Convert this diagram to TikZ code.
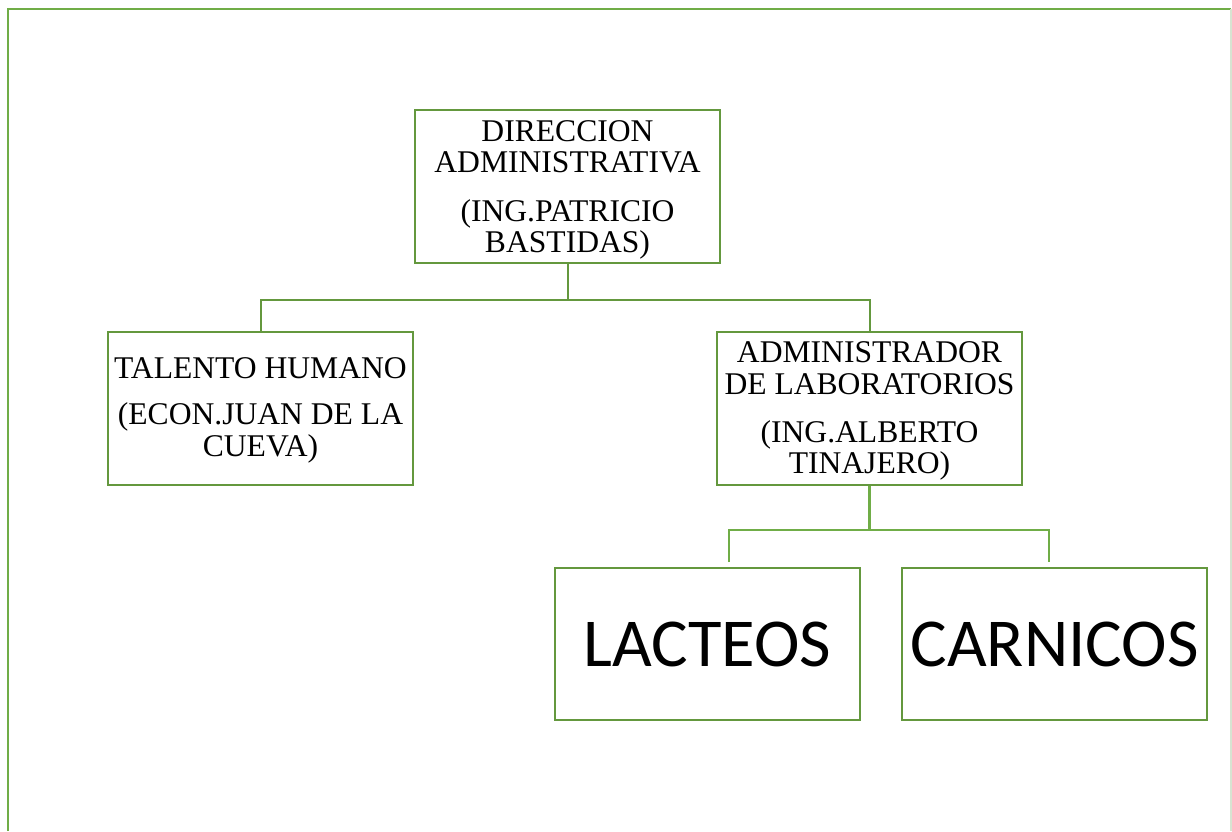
\documentclass[tikz,border=0pt]{standalone}
\usepackage{fontspec}
\setmainfont{Liberation Serif}
\newfontfamily\calibrifont{Carlito}
\usepackage{xcolor}
\usepackage{tikz}
\usetikzlibrary{positioning}
\definecolor{boxgreen}{RGB}{100, 152, 62}
\definecolor{linegreen}{RGB}{112, 173, 71}
\definecolor{palegreen}{RGB}{215, 228, 210}

\begin{document}
\begin{tikzpicture}[x=0.5pt, y=-0.5pt,
            unit/.style = {draw=boxgreen, line width=1pt, minimum width=152.5pt, minimum height=76.5pt, inner sep=0pt, align=center, font=\fontsize{15.8}{15.6}\selectfont},
            area/.style = {draw=boxgreen, line width=1pt, minimum width=152.5pt, minimum height=76pt, inner sep=0pt, font=\calibrifont\fontsize{34.3}{40}\selectfont},
            link/.style = {draw=boxgreen, line width=1pt},
            sublink/.style = {draw=linegreen, line width=1.4pt}]
        \useasboundingbox (0,0) rectangle (1232,831);
        % page frame
        \draw[draw=linegreen, line width=1.2pt] (8,831) -- (8,9) -- (1231,9);
        \draw[draw=palegreen, line width=0.6pt] (1231,9) -- (1231,831);

        \node[unit] (dir) at (567.5,186.5) {};
        \node[align=center, font=\fontsize{15.8}{15.6}\selectfont, inner sep=0pt] (dirtext) at (567.5,190) {DIRECCION\\ADMINISTRATIVA\\[9pt](ING.PATRICIO\\BASTIDAS)};
        \node[unit] (talento) at (260.5,408.5) {};
        \node[align=center, font=\fontsize{15.8}{16}\selectfont, inner sep=0pt] (talentotext) at (260.5,410.5) {TALENTO HUMANO\\[7pt](ECON.JUAN DE LA\\CUEVA)};
        \node[unit] (lab) at (869.5,408.5) {};
        \node[align=center, font=\fontsize{15.8}{15.6}\selectfont, inner sep=0pt] (labtext) at (869.5,411) {ADMINISTRADOR\\DE LABORATORIOS\\[8.5pt](ING.ALBERTO\\TINAJERO)};
        \node[area] (lacteos) at (707.5,644) {LACTEOS};
        \node[area] (carnicos) at (1054.5,644) {CARNICOS};

        \draw[link] (dir.south) -- ++(0,36) coordinate (top);
        \draw[link] (talento.north) |- (top) -| (lab.north);

        \coordinate (lacteosend) at (729,562);
        \coordinate (carnicosend) at (1049,562);
        \draw[sublink] (lab.south) -- ++(0,44) coordinate (mid);
        \draw[sublink] (lacteosend) |- (mid) -| (carnicosend);
\end{tikzpicture}
\end{document}
